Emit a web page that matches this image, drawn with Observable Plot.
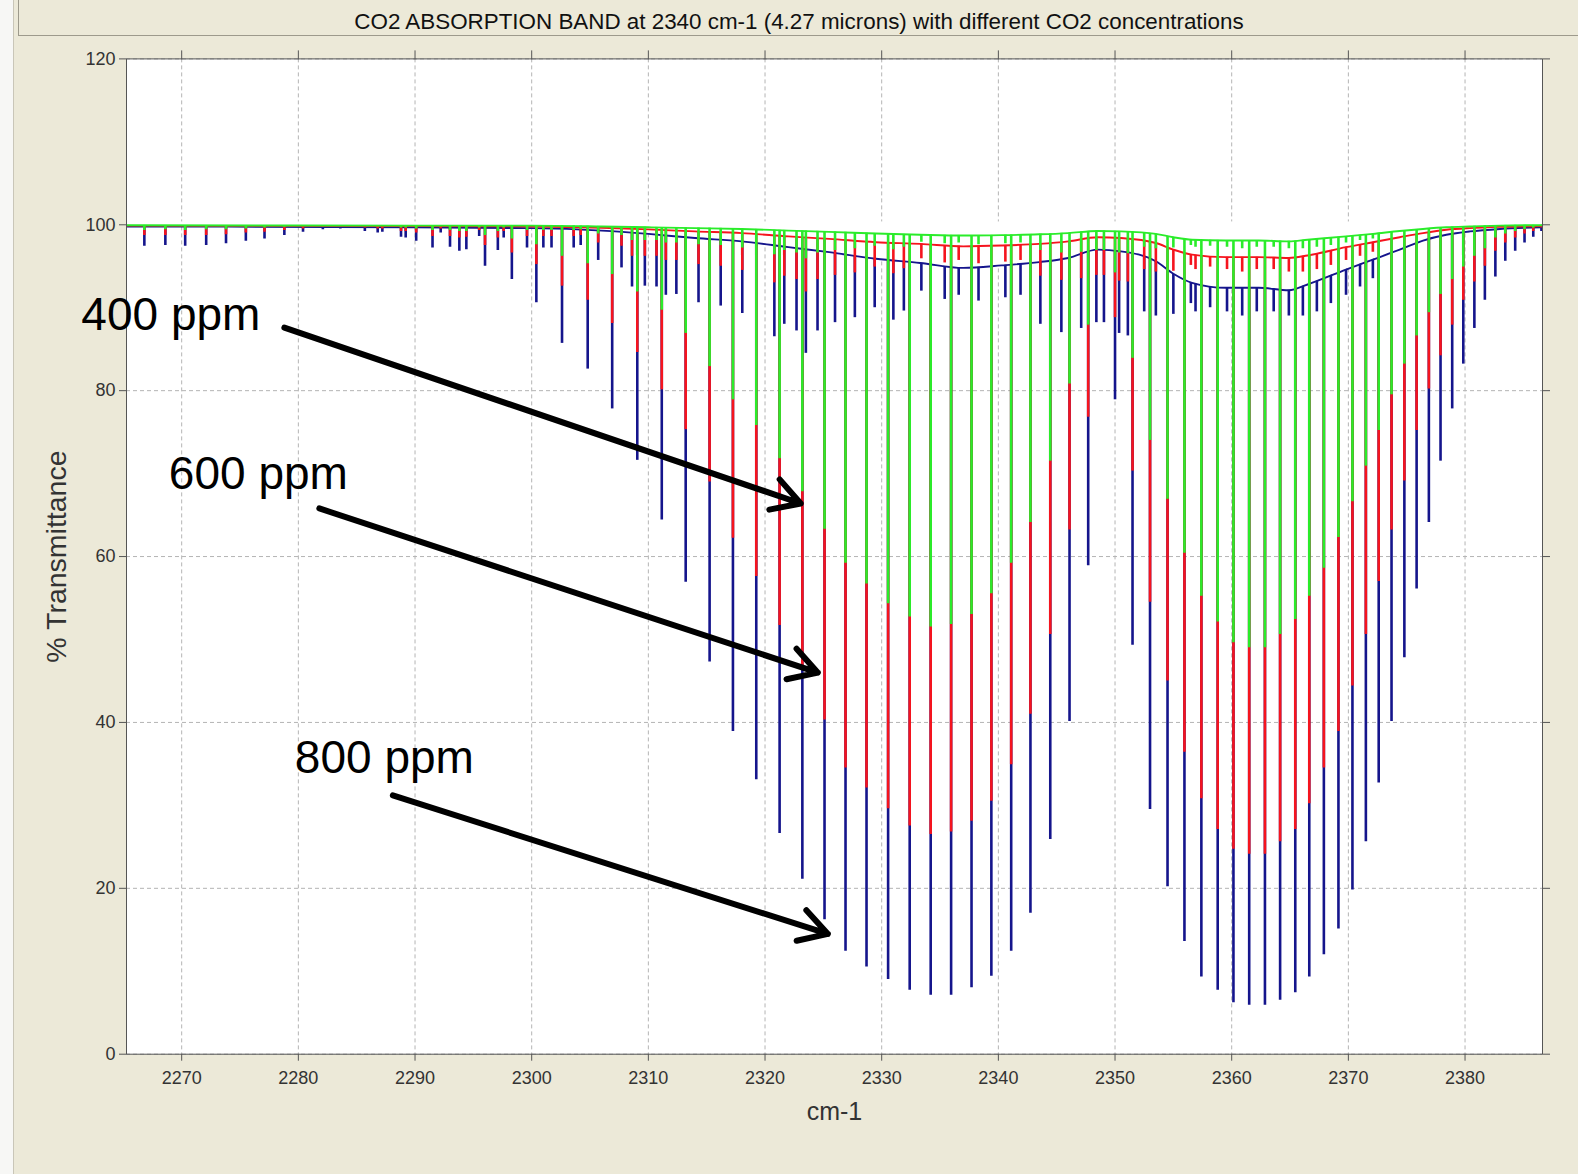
<!DOCTYPE html>
<html>
<head>
<meta charset="utf-8">
<script src="https://cdn.jsdelivr.net/npm/d3@7"></script>
<script src="https://cdn.jsdelivr.net/npm/@observablehq/plot@0.6"></script>
<style>
  html, body { margin: 0; padding: 0; background: #ece9d8; }
  body { width: 1578px; height: 1174px; overflow: hidden; position: relative; font-family: "Liberation Sans", Arial, sans-serif; }
  #leftedge { position: absolute; left: 0; top: 0; width: 13px; height: 1174px; background: #f7f7f5; border-right: 1px solid #c9c6b8; }
  #title { position: absolute; left: 18px; top: 0; width: 1560px; height: 35px; border-bottom: 1px solid #9d9a8c; border-left: 1px solid #9d9a8c; text-align: center; font-size: 22.4px; line-height: 43px; color: #111; white-space: nowrap; }
  #chart { position: absolute; left: 0; top: 36px; }
</style>
</head>
<body>
<div id="leftedge"></div>
<div id="title">CO2 ABSORPTION BAND at 2340 cm-1 (4.27 microns) with different CO2 concentrations</div>
<div id="chart"></div>
<script>
// ---- Main absorption lines (wavenumber, cm-1) and their minimum % transmittance
const mainNu = [2289.2, 2291.5, 2293.8, 2296.0, 2298.3, 2300.4, 2302.6, 2304.8, 2306.9, 2309.05,
  2311.15, 2313.2, 2315.25, 2317.25, 2319.25, 2321.25, 2323.2, 2325.1, 2326.9, 2328.7,
  2330.55, 2332.4, 2334.2, 2335.95, 2337.7, 2339.4, 2341.1, 2342.75, 2344.45, 2346.1,
  2347.7, 2350.0, 2351.5, 2353.0, 2354.5, 2355.95, 2357.4, 2358.8, 2360.15, 2361.5,
  2362.85, 2364.15, 2365.45, 2366.65, 2367.9, 2369.15, 2370.35, 2371.5, 2372.6, 2373.7,
  2374.8, 2375.85, 2376.9, 2377.9, 2378.9, 2379.85, 2380.8, 2381.7, 2382.6, 2383.45,
  2384.3, 2385.1, 2385.85, 2386.55];
const mainBlue800 = [98.4, 97.2, 96.8, 95.0, 93.4, 90.6, 85.7, 82.6, 77.8, 71.6,
  64.4, 56.9, 47.3, 38.9, 33.1, 26.6, 21.1, 16.2, 12.4, 10.5,
  9.0, 7.7, 7.1, 7.1, 8.0, 9.4, 12.4, 17.0, 25.9, 40.1,
  58.9, 78.9, 49.3, 29.5, 20.2, 13.6, 9.3, 7.7, 6.2, 5.9,
  5.9, 6.5, 7.4, 9.3, 12.0, 15.1, 19.8, 25.6, 32.7, 40.1,
  47.8, 56.1, 64.1, 71.5, 77.8, 83.2, 87.5, 90.9, 93.7, 95.6,
  96.8, 97.8, 98.5, 99.2];
const mainRed600 = [99.2, 98.6, 98.4, 97.5, 96.6, 95.2, 92.6, 90.9, 88.1, 84.6,
  80.1, 75.3, 69.0, 62.2, 57.6, 51.7, 46.5, 40.3, 34.5, 32.1,
  29.6, 27.5, 26.5, 26.8, 28.1, 30.5, 34.9, 41.0, 50.6, 63.2,
  76.8, 88.8, 70.3, 54.5, 45.0, 36.4, 30.8, 27.1, 24.7, 24.1,
  24.1, 25.6, 27.1, 30.2, 34.5, 38.9, 44.4, 50.6, 57.0, 63.2,
  69.1, 75.2, 80.2, 84.2, 87.9, 90.9, 93.1, 95.0, 96.8, 97.8,
  98.4, 98.9, 99.2, 99.6];
const mainGreen400 = [99.6, 99.3, 99.2, 98.7, 98.3, 97.6, 96.2, 95.3, 94.0, 91.9,
  89.7, 86.9, 82.9, 78.9, 75.8, 71.8, 67.8, 63.3, 59.2, 56.7,
  54.3, 52.7, 51.5, 51.8, 53.0, 55.5, 59.2, 64.1, 71.5, 80.8,
  87.9, 94.2, 83.9, 74.0, 66.9, 60.4, 55.2, 52.1, 49.6, 49.0,
  49.0, 50.6, 52.4, 55.2, 58.6, 62.3, 66.6, 70.9, 75.2, 79.5,
  83.2, 86.6, 89.4, 91.6, 93.4, 94.9, 96.2, 97.1, 98.4, 98.9,
  99.2, 99.4, 99.6, 99.8];

// ---- Weak (hot-band / isotopic) lines
const weakNu = [2266.8, 2268.6, 2270.3, 2272.1, 2273.8, 2275.5, 2277.1, 2278.8, 2280.4, 2282.1,
  2283.6, 2285.7, 2286.8, 2287.2, 2288.8, 2290.1, 2292.2, 2293.0, 2294.4, 2295.5,
  2297.1, 2297.6, 2299.6, 2301.0, 2301.7, 2303.6, 2304.2, 2305.7, 2307.7, 2308.6,
  2309.7, 2310.7, 2311.5, 2312.4, 2314.3, 2316.2, 2318.05, 2320.8, 2321.65, 2322.7,
  2323.5, 2324.5, 2326.0, 2327.7, 2329.4, 2331.0, 2331.9, 2333.4, 2335.4, 2336.6,
  2338.3, 2340.6, 2341.9, 2343.6, 2345.4, 2347.1, 2348.4, 2349.05, 2350.35, 2351.1,
  2352.5, 2353.5, 2355.0, 2356.5, 2356.9, 2358.15, 2359.6, 2360.9, 2362.15, 2363.6,
  2364.9, 2366.1, 2367.3, 2368.5, 2369.8, 2371.0, 2372.1];
const weakBlue800 = [97.4, 97.5, 97.4, 97.5, 97.7, 98.0, 98.3, 98.7, 99.1, 99.4,
  99.5, 99.2, 99.0, 99.1, 98.5, 98.0, 99.0, 97.3, 97.0, 98.6,
  96.9, 98.4, 97.2, 97.2, 97.2, 97.2, 97.5, 95.7, 94.8, 92.5,
  92.6, 92.5, 91.5, 91.6, 90.6, 90.2, 89.3, 86.5, 88.0, 87.2,
  84.5, 87.2, 88.2, 88.8, 90.0, 88.5, 89.6, 92.0, 91.0, 91.5,
  90.8, 91.2, 91.5, 88.0, 87.0, 87.5, 88.2, 88.2, 86.9, 86.6,
  89.5, 89.0, 89.2, 90.5, 89.5, 90.0, 89.5, 89.0, 89.5, 89.5,
  89.0, 89.0, 89.5, 90.5, 91.5, 92.5, 93.5];
const weakRed600 = [98.7, 98.7, 98.7, 98.7, 98.8, 99.0, 99.1, 99.3, 99.5, 99.7,
  99.75, 99.6, 99.5, 99.5, 99.2, 99.0, 99.5, 98.6, 98.5, 99.3,
  98.4, 99.2, 98.6, 98.6, 98.6, 98.6, 98.7, 97.8, 97.4, 96.2,
  96.2, 96.2, 95.7, 95.7, 95.2, 95.0, 94.5, 93.0, 93.8, 93.4,
  91.9, 93.4, 93.9, 94.2, 94.9, 94.1, 94.7, 95.9, 95.4, 95.7,
  95.3, 95.5, 95.7, 93.8, 93.3, 93.5, 93.9, 93.9, 93.2, 93.1,
  94.6, 94.3, 94.4, 95.1, 94.6, 94.9, 94.6, 94.3, 94.6, 94.6,
  94.3, 94.3, 94.6, 95.1, 95.7, 96.2, 96.7];
const weakGreen400 = [99.3, 99.4, 99.3, 99.4, 99.4, 99.5, 99.6, 99.7, 99.8, 99.85,
  99.9, 99.8, 99.75, 99.8, 99.6, 99.5, 99.75, 99.3, 99.2, 99.6,
  99.2, 99.6, 99.3, 99.3, 99.3, 99.3, 99.4, 98.9, 98.7, 98.1,
  98.1, 98.1, 97.8, 97.8, 97.6, 97.5, 97.2, 96.4, 96.9, 96.6,
  95.9, 96.6, 96.9, 97.1, 97.4, 97.0, 97.3, 97.9, 97.7, 97.8,
  97.6, 97.7, 97.8, 96.9, 96.6, 96.7, 96.9, 96.9, 96.6, 96.5,
  97.3, 97.1, 97.2, 97.5, 97.3, 97.4, 97.3, 97.1, 97.3, 97.3,
  97.1, 97.1, 97.3, 97.5, 97.8, 98.1, 98.3];

// ---- Upper envelope (transmittance between the lines)
const envNu = [2265.3, 2290, 2300, 2306, 2310, 2314, 2318, 2322, 2325.5, 2329.5,
  2333.3, 2337, 2340.3, 2343.5, 2346, 2348.5, 2350.5, 2353.5, 2355, 2356.6,
  2359.5, 2362.3, 2364.9, 2366.5, 2369.8, 2372.1, 2374.4, 2376.4, 2378.4, 2380.4,
  2383, 2386.6];
const envBlue800 = [99.8, 99.7, 99.6, 99.3, 98.9, 98.4, 98.0, 97.3, 96.7, 95.9,
  95.4, 94.8, 95.1, 95.5, 96.0, 97.0, 96.8, 95.6, 94.1, 93.0,
  92.4, 92.4, 92.1, 92.8, 94.6, 95.8, 97.0, 98.1, 98.8, 99.2,
  99.5, 99.7];
const envRed600 = [99.9, 99.85, 99.8, 99.65, 99.45, 99.2, 99.0, 98.6, 98.3, 97.9,
  97.7, 97.4, 97.5, 97.7, 98.0, 98.5, 98.4, 97.8, 97.0, 96.4,
  96.1, 96.1, 96.0, 96.3, 97.3, 97.9, 98.5, 99.0, 99.4, 99.6,
  99.75, 99.85];
const envGreen400 = [99.95, 99.9, 99.9, 99.8, 99.7, 99.6, 99.5, 99.3, 99.15, 98.95,
  98.8, 98.7, 98.75, 98.85, 99.0, 99.25, 99.2, 98.9, 98.5, 98.2,
  98.1, 98.1, 98.0, 98.2, 98.6, 98.9, 99.25, 99.5, 99.7, 99.8,
  99.9, 99.95];

// ---- Axes
const xTicks = [2270, 2280, 2290, 2300, 2310, 2320, 2330, 2340, 2350, 2360, 2370, 2380];
const yTicks = [0, 20, 40, 60, 80, 100, 120];

// ---- Annotations (data coordinates)
const annotLabels = ["400 ppm", "600 ppm", "800 ppm"];
const annotX = [2261.4, 2268.9, 2279.7];
const annotY = [87.3, 68.1, 33.9];
const arrowFromX = [2278.8, 2281.8, 2288.1];
const arrowFromY = [87.6, 65.8, 31.2];
const arrowToX = [2323.06, 2324.53, 2325.39];
const arrowToY = [66.4, 46.0, 14.5];

// ---- Build tables
const lines = mainNu.map((nu, i) => ({nu, blue: mainBlue800[i], red: mainRed600[i], green: mainGreen400[i]}))
  .concat(weakNu.map((nu, i) => ({nu, blue: weakBlue800[i], red: weakRed600[i], green: weakGreen400[i]})));
const env = envNu.map((nu, i) => ({nu, blue: envBlue800[i], red: envRed600[i], green: envGreen400[i]}));
const annots = annotLabels.map((label, i) => ({label, x: annotX[i], y: annotY[i]}));
const arrows = arrowFromX.map((x1, i) => ({x1, y1: arrowFromY[i], x2: arrowToX[i], y2: arrowToY[i]}));

const series = [
  {key: "blue", color: "#15158c"},
  {key: "red", color: "#f5141e"},
  {key: "green", color: "#2aec2a"}
];

const seriesMarks = series.flatMap(({key, color}) => [
  Plot.ruleX(lines, {x: "nu", y1: key, y2: 100, stroke: color, strokeWidth: 2.6, clip: true}),
  Plot.areaY(env, {x: "nu", y1: key, y2: 100.3, fill: "white", curve: "monotone-x", clip: true}),
  Plot.line(env, {x: "nu", y: key, stroke: color, strokeWidth: 1.9, curve: "monotone-x", clip: true})
]);

const chart = Plot.plot({
  width: 1578,
  height: 1138,
  marginLeft: 126,
  marginRight: 36,
  marginTop: 22.4,
  marginBottom: 120.3,
  x: {domain: [2265.27, 2386.64]},
  y: {domain: [0, 120]},
  style: {background: "transparent", fontFamily: "'Liberation Sans', Arial, sans-serif", color: "#333", overflow: "visible"},
  marks: [
    Plot.frame({fill: "white", stroke: null}),
    Plot.gridX(xTicks, {stroke: "#b4b4b4", strokeOpacity: 1, strokeDasharray: "4,3"}),
    Plot.gridY(yTicks, {stroke: "#b4b4b4", strokeOpacity: 1, strokeDasharray: "4,3"}),
    ...seriesMarks,
    Plot.frame({stroke: "#555", strokeWidth: 1}),
    Plot.axisY(yTicks, {anchor: "left", tickSize: 7, tickPadding: 4, fontSize: 18, label: null, stroke: "#555", fill: "#333"}),
    Plot.axisY(yTicks, {anchor: "right", tickSize: 7, tickFormat: () => "", label: null, stroke: "#555"}),
    Plot.axisX(xTicks, {anchor: "bottom", tickSize: 7, tickPadding: 10, fontSize: 18, tickFormat: "d", label: null, stroke: "#555", fill: "#333"}),
    Plot.axisX(xTicks, {anchor: "top", tickSize: 9, tickFormat: () => "", label: null, stroke: "#555"}),
    Plot.text(["% Transmittance"], {frameAnchor: "left", dx: -70, rotate: -90, textAnchor: "middle", fontSize: 28.5, fill: "#333"}),
    Plot.text(["cm-1"], {frameAnchor: "bottom", dy: 66, textAnchor: "middle", fontSize: 25, fill: "#333"}),
    Plot.arrow(arrows, {x1: "x1", y1: "y1", x2: "x2", y2: "y2", stroke: "black", strokeWidth: 6, headLength: 8, headAngle: 60}),
    Plot.text(annots, {x: "x", y: "y", text: "label", textAnchor: "start", lineAnchor: "bottom", fontSize: 46, fill: "black"})
  ]
});
document.getElementById("chart").appendChild(chart);
</script>
</body>
</html>
